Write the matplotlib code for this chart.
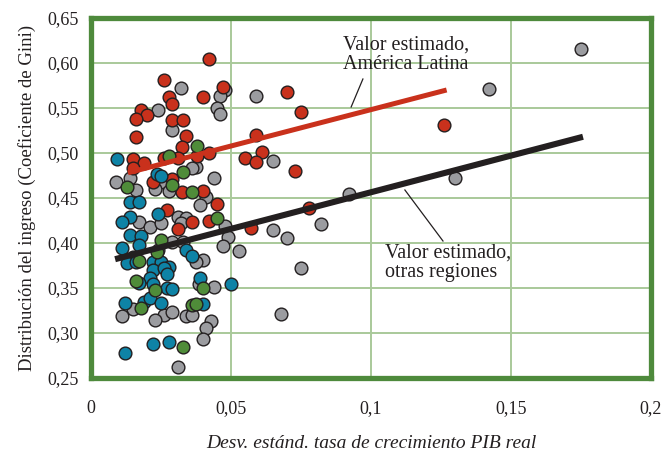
import matplotlib
matplotlib.use("Agg")
import matplotlib.pyplot as plt

# Coeficiente de Gini vs desv. estandar del crecimiento del PIB real
latam_x = [0.042, 0.026, 0.047, 0.040, 0.028, 0.029, 0.018, 0.020, 0.016, 0.029,
           0.033, 0.016, 0.034, 0.0325, 0.015, 0.026, 0.031, 0.019, 0.015, 0.038,
           0.042, 0.059, 0.061, 0.055, 0.059, 0.022, 0.029, 0.0325, 0.040, 0.045,
           0.027, 0.036, 0.042, 0.057, 0.031, 0.070, 0.075, 0.126, 0.073, 0.078]
latam_y = [0.604, 0.581, 0.573, 0.562, 0.562, 0.554, 0.548, 0.542, 0.538, 0.537,
           0.537, 0.518, 0.519, 0.507, 0.493, 0.494, 0.494, 0.489, 0.483, 0.497,
           0.500, 0.520, 0.501, 0.494, 0.490, 0.468, 0.471, 0.457, 0.458, 0.443,
           0.437, 0.423, 0.424, 0.417, 0.416, 0.568, 0.546, 0.531, 0.480, 0.439]

green_x = [0.038, 0.028, 0.033, 0.013, 0.029, 0.036, 0.045, 0.025, 0.0236, 0.017,
           0.016, 0.023, 0.018, 0.036, 0.040, 0.0375, 0.033]
green_y = [0.508, 0.497, 0.479, 0.462, 0.464, 0.457, 0.428, 0.403, 0.390, 0.380,
           0.358, 0.348, 0.328, 0.331, 0.350, 0.332, 0.284]

blue_x = [0.0093, 0.0236, 0.025, 0.014, 0.017, 0.014, 0.011, 0.024, 0.014, 0.018,
          0.017, 0.011, 0.034, 0.036, 0.015, 0.013, 0.016, 0.022, 0.025, 0.028,
          0.022, 0.026, 0.027, 0.021, 0.017, 0.022, 0.027, 0.029, 0.039, 0.050,
          0.012, 0.019, 0.021, 0.025, 0.040, 0.022, 0.028, 0.012]
blue_y = [0.493, 0.477, 0.474, 0.446, 0.446, 0.429, 0.423, 0.432, 0.409, 0.408,
          0.398, 0.394, 0.392, 0.386, 0.384, 0.378, 0.379, 0.379, 0.379, 0.373,
          0.370, 0.372, 0.366, 0.361, 0.356, 0.354, 0.350, 0.349, 0.361, 0.354,
          0.333, 0.334, 0.339, 0.333, 0.332, 0.288, 0.290, 0.278]

gray_x = [0.032, 0.048, 0.046, 0.059, 0.045, 0.046, 0.024, 0.029, 0.0375, 0.065,
          0.036, 0.044, 0.041, 0.039, 0.014, 0.009, 0.016, 0.025, 0.023, 0.028,
          0.017, 0.031, 0.034, 0.032, 0.021, 0.025, 0.048, 0.065, 0.070, 0.049,
          0.047, 0.053, 0.040, 0.0375, 0.029, 0.033, 0.024, 0.0385, 0.044, 0.015,
          0.011, 0.026, 0.029, 0.023, 0.034, 0.036, 0.043, 0.041, 0.040, 0.031,
          0.175, 0.142, 0.130, 0.092, 0.082, 0.075, 0.068]
gray_y = [0.572, 0.570, 0.563, 0.563, 0.550, 0.543, 0.548, 0.526, 0.484, 0.491,
          0.483, 0.472, 0.451, 0.442, 0.472, 0.468, 0.459, 0.468, 0.460, 0.458,
          0.423, 0.429, 0.428, 0.422, 0.418, 0.422, 0.419, 0.414, 0.406, 0.407,
          0.397, 0.391, 0.381, 0.379, 0.401, 0.401, 0.392, 0.354, 0.351, 0.327,
          0.319, 0.320, 0.323, 0.314, 0.319, 0.320, 0.313, 0.306, 0.293, 0.262,
          0.615, 0.571, 0.472, 0.454, 0.421, 0.372, 0.321]

# rectas estimadas
fit_latam_x = [0.0132, 0.127]
fit_latam_y = [0.478, 0.570]
fit_other_x = [0.0086, 0.1757]
fit_other_y = [0.382, 0.518]

x_ticks = [0, 0.05, 0.1, 0.15, 0.2]
x_labels = ['0', '0,05', '0,1', '0,15', '0,2']
y_ticks = [0.25, 0.30, 0.35, 0.40, 0.45, 0.50, 0.55, 0.60, 0.65]
y_labels = ['0,25', '0,30', '0,35', '0,40', '0,45', '0,50', '0,55', '0,60', '0,65']

RED = '#c9311c'
GRAY = '#9b9ca0'
BLUE = '#0e83a6'
GREEN = '#4f8c39'
DARK = '#231f20'
FRAME = '#4e8a3c'
GRID = '#a9c99a'

plt.rcParams['font.family'] = ['Liberation Serif', 'DejaVu Serif']

fig = plt.figure(figsize=(6.61, 4.54), dpi=100)
ax = fig.add_axes([0.1377, 0.1674, 0.8472, 0.7930])

ax.set_xlim(0, 0.2)
ax.set_ylim(0.25, 0.65)
ax.set_xticks(x_ticks)
ax.set_xticklabels(x_labels)
ax.set_yticks(y_ticks)
ax.set_yticklabels(y_labels)
ax.tick_params(length=0, labelsize=13, colors=DARK)
ax.tick_params(axis='x', pad=16)
ax.tick_params(axis='y', pad=9)
ax.grid(True, color=GRID, linewidth=1.4)
ax.set_axisbelow(True)
for s in ax.spines.values():
    s.set_color(FRAME)
    s.set_linewidth(3.8)

kw = dict(s=84, edgecolors=DARK, linewidths=1.0, zorder=3)
ax.scatter(gray_x, gray_y, color=GRAY, **kw)
ax.scatter(latam_x, latam_y, color=RED, **kw)
ax.scatter(blue_x, blue_y, color=BLUE, **kw)
ax.scatter(green_x, green_y, color=GREEN, **kw)

ax.plot(fit_latam_x, fit_latam_y, color=RED, linewidth=3.6, solid_capstyle='butt', zorder=4)
ax.plot(fit_other_x, fit_other_y, color=DARK, linewidth=4.4, solid_capstyle='butt', zorder=4)

ax.text(0.090, 0.630, 'Valor estimado,\nAmérica Latina', fontsize=14.5, color=DARK,
        va='top', ha='left', linespacing=1.0, zorder=5)
ax.plot([0.0971, 0.0929], [0.5822, 0.5511], color=DARK, linewidth=0.9, zorder=5)
ax.text(0.105, 0.399, 'Valor estimado,\notras regiones', fontsize=14.5, color=DARK,
        va='top', ha='left', linespacing=1.0, zorder=5)
ax.plot([0.1121, 0.1257], [0.4589, 0.4022], color=DARK, linewidth=0.9, zorder=5)

ax.set_ylabel('Distribución del ingreso (Coeficiente de Gini)', fontsize=13.5, color=DARK, labelpad=8)
ax.set_xlabel('Desv. estánd. tasa de crecimiento PIB real', fontsize=14, color=DARK,
              style='italic', labelpad=13)

fig.savefig('out.png', dpi=100, facecolor='white')
